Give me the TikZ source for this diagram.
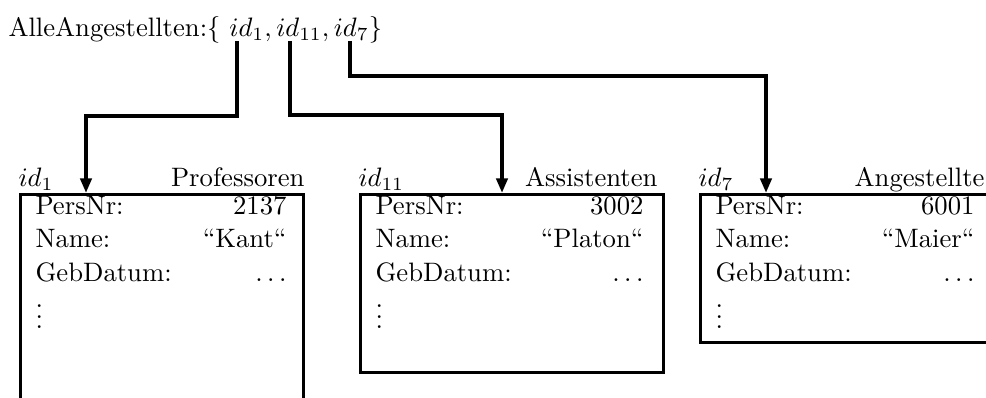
\documentclass[tikz,border=0pt]{standalone}
\usetikzlibrary{arrows.meta}
\begin{document}
\begin{tikzpicture}[x=0.375pt,y=-0.375pt,
  box/.style={draw, line width=1.1pt, anchor=north west, inner sep=0pt},
  arr/.style={line width=1.4pt, -{Triangle[length=5.5pt,width=4.2pt]}},
  lab/.style={inner sep=0pt, anchor=base west},
  val/.style={inner sep=0pt, anchor=base east}]
\useasboundingbox (0,0) rectangle (986,398);
\clip (0,0) rectangle (986,398);
\node[lab] (all) at (8,37) {AlleAngestellten:\{ $id_1, id_{11}, id_7$\}};
\coordinate (s1) at (237,41);
\coordinate (s2) at (290,41);
\coordinate (s3) at (350,41);
% boxes
\node[box, minimum width=106.1pt, minimum height=97.5pt] (b1) at (19,193) {};
\node[box, minimum width=113.6pt, minimum height=66.75pt] (b2) at (359,193) {};
\node[box, minimum width=112.9pt, minimum height=55.5pt] (b3) at (699,193) {};
\coordinate (e1) at (86,193);
\coordinate (e2) at (502,193);
\coordinate (e3) at (766,193);
% arrows
\draw[arr] (s1) -- (237,116) -| (e1);
\draw[arr] (s2) -- (290,115) -| (e2);
\draw[arr] (s3) -- (350,76) -| (e3);
% headers
\node[lab] (h1) at (18,187) {$id_1$};
\node[val] (t1) at (305,187) {Professoren};
\node[lab] (h2) at (358,187) {$id_{11}$};
\node[val] (t2) at (658,187) {Assistenten};
\node[lab] (h3) at (698,187) {$id_7$};
\node[val] (t3) at (985,187) {Angestellte};
% box 1
\node[lab] (p1) at (35,215) {PersNr:};
\node[val] (pv1) at (287,215) {2137};
\node[lab] (n1) at (35,248) {Name:};
\node[val] (nv1) at (287,248) {``Kant``};
\node[lab] (g1) at (35,282) {GebDatum:};
\node[val] (gv1) at (287,282) {$\ldots$};
\node[lab] (d1) at (35,329) {$\vdots$};
% box 2
\node[lab] (p2) at (375,215) {PersNr:};
\node[val] (pv2) at (644,215) {3002};
\node[lab] (n2) at (375,248) {Name:};
\node[val] (nv2) at (644,248) {``Platon``};
\node[lab] (g2) at (375,282) {GebDatum:};
\node[val] (gv2) at (644,282) {$\ldots$};
\node[lab] (d2) at (375,329) {$\vdots$};
% box 3
\node[lab] (p3) at (715,215) {PersNr:};
\node[val] (pv3) at (975,215) {6001};
\node[lab] (n3) at (715,248) {Name:};
\node[val] (nv3) at (975,248) {``Maier``};
\node[lab] (g3) at (715,282) {GebDatum:};
\node[val] (gv3) at (975,282) {$\ldots$};
\node[lab] (d3) at (715,329) {$\vdots$};
\end{tikzpicture}
\end{document}
